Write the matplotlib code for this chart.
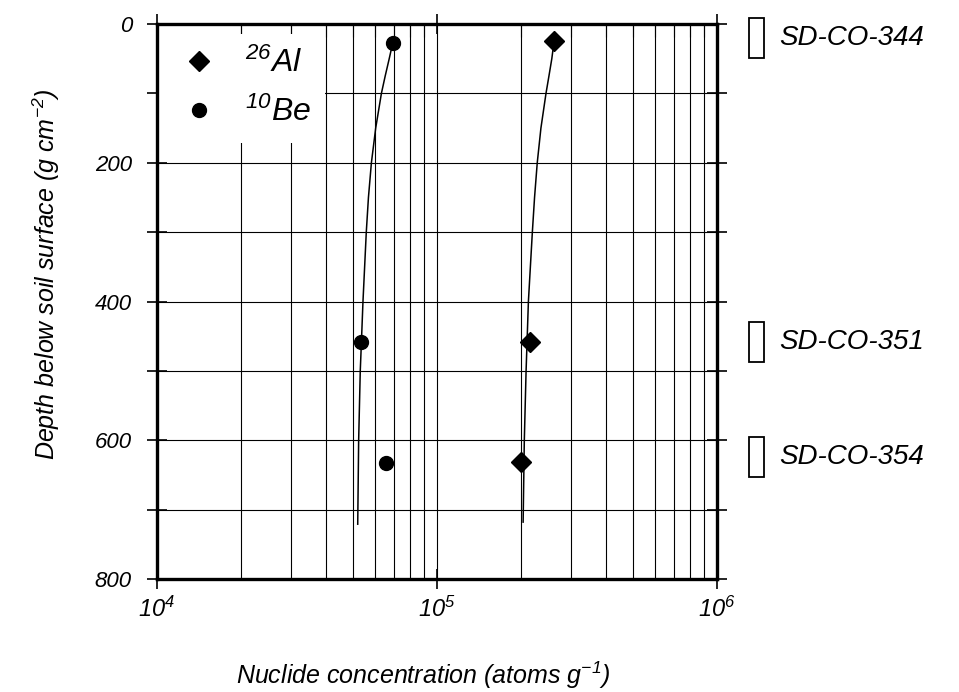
import matplotlib
matplotlib.use('Agg')
import matplotlib.pyplot as plt
from matplotlib.patches import Rectangle
from matplotlib.ticker import FixedLocator, LogLocator, NullFormatter
import matplotlib.transforms as mtransforms

plt.rcParams['font.family'] = ['Liberation Sans', 'DejaVu Sans']
plt.rcParams['font.style'] = 'italic'
plt.rcParams['mathtext.fontset'] = 'custom'
plt.rcParams['mathtext.rm'] = 'Liberation Sans:italic'
plt.rcParams['mathtext.it'] = 'Liberation Sans:italic'
plt.rcParams['mathtext.default'] = 'it'

# Messwerte (Tiefe in g/cm2, Konzentration in atoms/g)
al_depth = [24, 458, 631]
al_conc = [2.62e5, 2.14e5, 2.00e5]
be_depth = [27, 459, 633]
be_conc = [6.95e4, 5.35e4, 6.60e4]

# Modellkurven
al_curve_depth = [24, 50, 75, 100, 150, 200, 250, 300, 400, 500, 600, 718]
al_curve_conc = [2.62e5, 2.57e5, 2.51e5, 2.45e5, 2.35e5, 2.28e5, 2.23e5, 2.19e5,
                 2.12e5, 2.08e5, 2.05e5, 2.03e5]
be_curve_depth = [27, 50, 75, 100, 150, 200, 250, 300, 400, 459, 500, 600, 721]
be_curve_conc = [6.95e4, 6.75e4, 6.53e4, 6.33e4, 6.04e4, 5.83e4, 5.69e4, 5.59e4,
                 5.44e4, 5.37e4, 5.32e4, 5.25e4, 5.21e4]

# Proben
sample_names = ['SD-CO-344', 'SD-CO-351', 'SD-CO-354']
sample_depths = [20, 458, 624]

fig = plt.figure(figsize=(9.59, 6.92), dpi=100)
ax = fig.add_axes([0.1637, 0.1633, 0.5840, 0.8020])

ax.set_xscale('log')
ax.set_xlim(1e4, 1e6)
ax.set_ylim(800, 0)

# Gitter und Ticks
ax.set_axisbelow(True)
ax.xaxis.set_major_locator(FixedLocator([1e4, 1e5, 1e6]))
ax.xaxis.set_minor_locator(LogLocator(base=10, subs=range(2, 10)))
ax.xaxis.set_minor_formatter(NullFormatter())
ax.set_xticklabels([r'$10^{4}$', r'$10^{5}$', r'$10^{6}$'], fontsize=17)
ax.yaxis.set_major_locator(FixedLocator(range(0, 801, 100)))
ax.set_yticklabels([str(v) if v % 200 == 0 else '' for v in range(0, 801, 100)], fontsize=16)
ax.grid(True, which='major', axis='y', color='black', linewidth=0.8)
ax.grid(True, which='both', axis='x', color='black', linewidth=0.8)

ax.tick_params(axis='y', which='major', direction='inout', length=14, width=1.2,
               left=True, right=True, pad=11)
ax.tick_params(axis='x', which='major', direction='inout', length=14, width=1.2,
               top=True, bottom=True, pad=6)
ax.tick_params(axis='x', which='minor', direction='in', length=9, width=0.8,
               top=True, bottom=False)

for s in ax.spines.values():
    s.set_linewidth(2.4)

# weisser Hintergrund fuer Legende
ax.add_patch(Rectangle((0, 0.786), 0.30, 0.196, transform=ax.transAxes,
                       facecolor='white', edgecolor='none', zorder=1))

# Kurven und Punkte
ax.plot(al_curve_conc, al_curve_depth, color='black', linewidth=1.1, zorder=2)
ax.plot(be_curve_conc, be_curve_depth, color='black', linewidth=1.1, zorder=2)
ax.plot(al_conc, al_depth, 'D', color='black', markersize=10, linestyle='none',
        label=r'$^{26}$Al', zorder=3)
ax.plot(be_conc, be_depth, 'o', color='black', markersize=10, linestyle='none',
        label=r'$^{10}$Be', zorder=3)

leg = ax.legend(loc='upper left', bbox_to_anchor=(0.023, 0.98), frameon=False,
                borderaxespad=0, handlelength=1.0, handletextpad=0.95,
                labelspacing=0.55,
                prop={'family': 'Liberation Sans', 'style': 'italic', 'size': 23})
leg.set_zorder(4)

ax.set_xlabel(r'Nuclide concentration (atoms g$^{-1}$)', fontsize=18)
ax.set_ylabel(r'Depth below soil surface (g cm$^{-2}$)', fontsize=18)
ax.xaxis.set_label_coords(0.475, -0.145)
ax.yaxis.set_label_coords(-0.17, 0.55)

# Probenbeschriftung rechts
trans = mtransforms.blended_transform_factory(ax.transAxes, ax.transData)
for name, d in zip(sample_names, sample_depths):
    ax.add_patch(Rectangle((1.057, d - 29), 0.026, 58, transform=trans,
                           facecolor='white', edgecolor='black', linewidth=1.3,
                           clip_on=False))
    ax.text(1.111, d, name, transform=trans, fontsize=20, va='center', ha='left')

fig.savefig('out.png', dpi=100)
